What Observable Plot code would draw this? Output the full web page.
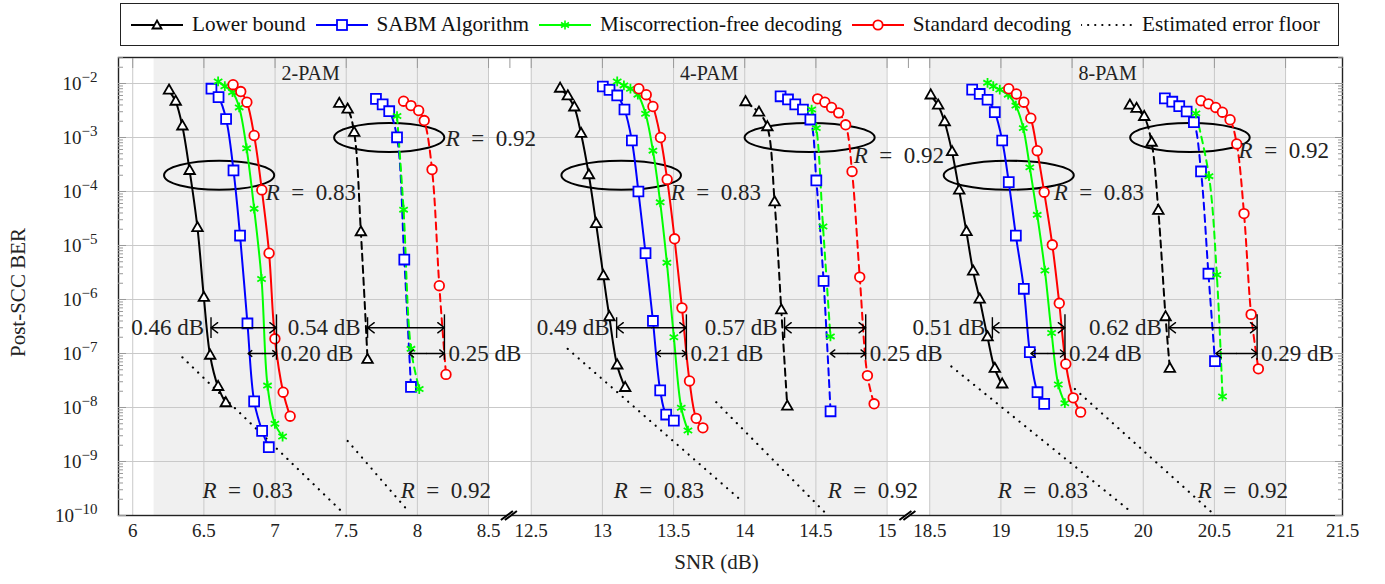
<!DOCTYPE html>
<html><head><meta charset="utf-8">
<script src="https://cdn.jsdelivr.net/npm/d3@7"></script>
<script src="https://cdn.jsdelivr.net/npm/@observablehq/plot@0.6"></script>
<style>
body{margin:0;background:#fff;font-family:"Liberation Serif","Times New Roman",serif;}
#legend{position:absolute;left:120px;top:3px;width:1217px;height:41px;border:1.3px solid #222;display:flex;align-items:center;font-size:21.2px;color:#111;box-sizing:content-box;}
#legend .it{display:flex;align-items:center;margin-left:10px;}
#legend svg{margin-right:9px;}
#chart{position:absolute;left:0;top:50px;}
</style></head><body>
<div id="legend"></div>
<div id="chart"></div>
<script>
// ---------- data (SNR in dB, post-SCC BER) ----------
const seriesNames = ["Lower bound","SABM Algorithm","Miscorrection-free decoding","Standard decoding"];
const seriesColors = ["#000000","#0000ff","#00ff00","#ff0000"];

// 2-PAM
const lower2_83 = [[6.255,7.4e-3],[6.302,4.6e-3],[6.349,1.6e-3],[6.40,2.4e-4],[6.455,2.1e-5],[6.50,1.07e-6],[6.544,9.1e-8],[6.60,2.4e-8],[6.654,1.2e-8]];
const sabm2_83 = [[6.553,8.0e-3],[6.603,5.6e-3],[6.656,2.2e-3],[6.708,2.45e-4],[6.754,1.53e-5],[6.806,3.6e-7],[6.853,1.3e-8],[6.909,3.7e-9],[6.956,1.84e-9]];
const misc2_83 = [[6.60,1.09e-2],[6.647,8.9e-3],[6.701,6.9e-3],[6.748,3.6e-3],[6.80,6.3e-4],[6.853,4.8e-5],[6.905,2.4e-6],[6.947,2.55e-8],[6.999,5.0e-9],[7.053,2.9e-9]];
const std2_83 = [[6.705,9.5e-3],[6.759,7.1e-3],[6.802,4.5e-3],[6.853,1.09e-3],[6.907,1.07e-4],[6.958,7.2e-6],[6.999,1.87e-7],[7.057,1.92e-8],[7.106,6.9e-9]];
const lower2_92 = [[7.451,4.2e-3],[7.510,3.3e-3],[7.556,1.22e-3],[7.603,1.76e-5],[7.650,7.6e-8]];
const sabm2_92 = [[7.709,5.2e-3],[7.756,4.1e-3],[7.802,3.07e-3],[7.857,1.01e-3],[7.908,5.5e-6],[7.955,2.4e-8]];
const misc2_92 = [[7.857,2.5e-3],[7.903,4.6e-5],[7.955,1.22e-7],[8.013,2.2e-8]];
const std2_92 = [[7.903,4.7e-3],[7.955,3.9e-3],[8.009,3.16e-3],[8.048,2.06e-3],[8.103,2.55e-4],[8.154,1.8e-6],[8.201,4.1e-8]];
// 4-PAM
const lower4_83 = [[12.703,8.0e-3],[12.757,5.8e-3],[12.803,3.6e-3],[12.85,1.17e-3],[12.905,2.0e-4],[12.956,2.5e-5],[13.007,2.7e-6],[13.049,4.7e-7],[13.104,6.0e-8],[13.16,2.3e-8]];
const sabm4_83 = [[13.003,8.8e-3],[13.05,7.6e-3],[13.104,6.0e-3],[13.155,3.3e-3],[13.207,8.8e-4],[13.253,1.0e-4],[13.303,7.2e-6],[13.355,4.0e-7],[13.406,2.07e-8],[13.448,7.4e-9],[13.502,5.7e-9]];
const misc4_83 = [[13.104,1.09e-2],[13.151,9.2e-3],[13.197,8.0e-3],[13.249,6.2e-3],[13.303,2.75e-3],[13.355,5.7e-4],[13.406,6.3e-5],[13.453,4.8e-6],[13.502,2.0e-7],[13.554,9.9e-9],[13.601,3.75e-9]];
const std4_83 = [[13.256,8.0e-3],[13.308,6.2e-3],[13.355,3.75e-3],[13.408,1.0e-3],[13.455,1.67e-4],[13.507,1.33e-5],[13.559,7.0e-7],[13.612,3.1e-8],[13.659,6.3e-9],[13.706,4.2e-9]];
const lower4_92 = [[14.006,4.5e-3],[14.10,2.9e-3],[14.159,1.55e-3],[14.21,6.3e-5],[14.257,6.3e-7],[14.299,1.04e-8]];
const sabm4_92 = [[14.252,5.8e-3],[14.304,5.06e-3],[14.355,4.1e-3],[14.409,3.3e-3],[14.461,2.15e-3],[14.503,1.6e-4],[14.554,2.2e-6],[14.603,8.5e-9]];
const misc4_92 = [[14.47,3.3e-3],[14.503,1.49e-3],[14.55,2.25e-5],[14.602,2.07e-7]];
const std4_92 = [[14.512,5.2e-3],[14.563,4.5e-3],[14.61,3.6e-3],[14.66,2.86e-3],[14.709,1.72e-3],[14.754,2.35e-4],[14.808,2.6e-6],[14.862,3.9e-8],[14.909,1.17e-8]];
// 8-PAM
const lower8_83 = [[18.507,6.0e-3],[18.559,3.9e-3],[18.605,1.92e-3],[18.657,5.35e-4],[18.707,1.04e-4],[18.758,1.77e-5],[18.805,3.3e-6],[18.851,1.0e-6],[18.906,2.0e-7],[18.957,5.2e-8],[19.009,2.67e-8]];
const sabm8_83 = [[18.798,7.7e-3],[18.851,6.4e-3],[18.906,5.0e-3],[18.957,2.94e-3],[19.009,8.8e-4],[19.055,1.49e-4],[19.105,1.53e-5],[19.161,1.58e-6],[19.203,1.06e-7],[19.257,1.92e-8],[19.304,1.17e-8]];
const misc8_83 = [[18.906,1.03e-2],[18.946,8.9e-3],[18.992,7.7e-3],[19.051,6.2e-3],[19.105,3.9e-3],[19.157,1.49e-3],[19.203,2.8e-4],[19.255,3.7e-5],[19.309,3.44e-6],[19.356,2.4e-7],[19.403,2.67e-8],[19.449,1.2e-8]];
const std8_83 = [[19.055,8.0e-3],[19.109,6.4e-3],[19.161,4.5e-3],[19.21,2.28e-3],[19.255,5.7e-4],[19.304,9.7e-5],[19.361,1.03e-5],[19.41,8.5e-7],[19.456,6.4e-8],[19.508,1.51e-8],[19.56,8.2e-9]];
const lower8_92 = [[19.906,3.9e-3],[19.953,3.4e-3],[20.007,2.4e-3],[20.059,8.0e-4],[20.106,4.4e-5],[20.157,4.7e-7],[20.187,5.2e-8]];
const sabm8_92 = [[20.152,5.3e-3],[20.204,4.6e-3],[20.253,3.8e-3],[20.305,3.03e-3],[20.356,1.92e-3],[20.406,2.35e-4],[20.458,3.0e-6],[20.504,7.2e-8]];
const misc8_92 = [[20.37,2.8e-3],[20.462,1.92e-4],[20.517,2.86e-6],[20.557,1.6e-8]];
const std8_92 = [[20.406,4.8e-3],[20.458,4.2e-3],[20.509,3.6e-3],[20.556,2.94e-3],[20.61,2.13e-3],[20.657,7.6e-4],[20.708,3.9e-5],[20.758,5.3e-7],[20.809,5.2e-8]];

// estimated error floors: [snr1, ber1, snr2, ber2]
const floors = [[6.349,8.5e-8,7.474,1.15e-10],[7.51,2.4e-9,7.943,1.15e-10],
  [12.756,1.22e-7,13.975,1.9e-10],[13.80,1.25e-8,14.562,1.15e-10],
  [18.652,5.75e-8,19.918,1.15e-10],[19.52,2.2e-8,20.48,1.15e-10]];

// panels (axis segments) and shaded ranges
const panelNames = ["2-PAM","4-PAM","8-PAM"];
const panelLo = [6, 12.5, 18.5];
const panelHi = [8.5, 15, 21];
const shadeLo = [6.15, 12.5, 18.5];
const shadeHi = [8.5, 15, 21];
const xTickLabels = [6,6.5,7,7.5,8,8.5,12.5,13,13.5,14,14.5,15,18.5,19,19.5,20,20.5,21,21.5];
const yDecades = [1e-10,1e-9,1e-8,1e-7,1e-6,1e-5,1e-4,1e-3,1e-2];

// gap annotations (even index: long arrow, label left; odd index: short arrow, label right)
const gapStart = [6.55,6.81,7.65,7.94, 13.10,13.38,14.28,14.60, 18.94,19.21,20.18,20.51];
const gapEnd   = [7.01,7.01,8.19,8.19, 13.59,13.59,14.85,14.85, 19.45,19.45,20.80,20.80];
const gapBer   = [3e-7,1e-7,3e-7,1e-7, 3e-7,1e-7,3e-7,1e-7, 3e-7,1e-7,3e-7,1e-7];
const gapText  = ["0.46 dB","0.20 dB","0.54 dB","0.25 dB","0.49 dB","0.21 dB","0.57 dB","0.25 dB","0.51 dB","0.24 dB","0.62 dB","0.29 dB"];

// ellipses around curve groups: [snr, ber, half width dB]
const ellipses = [[6.607,2e-4,0.387],[7.802,1e-3,0.387],[13.132,2e-4,0.42],[14.456,1e-3,0.457],[19.055,2e-4,0.457],[20.328,1e-3,0.42]];
// rate labels next to ellipses [snr, ber, rate] and at bottom
const rateLabels = [[6.934,9.5e-5,0.83],[8.199,9.5e-4,0.92],[13.48,9.5e-5,0.83],[14.766,4.6e-4,0.92],[19.371,9.5e-5,0.83],[20.67,5.75e-4,0.92]];
const rateLabelsBottom = [[6.49,2.9e-10,0.83],[7.883,2.9e-10,0.92],[13.08,2.9e-10,0.83],[14.583,2.9e-10,0.92],[18.977,2.9e-10,0.83],[20.383,2.9e-10,0.92]];

// ---------- build ----------
const groups = [
  [2,0.83,[lower2_83,sabm2_83,misc2_83,std2_83]],[2,0.92,[lower2_92,sabm2_92,misc2_92,std2_92]],
  [4,0.83,[lower4_83,sabm4_83,misc4_83,std4_83]],[4,0.92,[lower4_92,sabm4_92,misc4_92,std4_92]],
  [8,0.83,[lower8_83,sabm8_83,misc8_83,std8_83]],[8,0.92,[lower8_92,sabm8_92,misc8_92,std8_92]]];
const rows = [];
for (const [pam, rate, arrs] of groups) arrs.forEach((arr, k) => arr.forEach(([snr, ber]) =>
  rows.push({series: seriesNames[k], key: `${pam}-${rate}-${k}`, pam, rate, snr, ber})));

// broken axis: map SNR to a continuous axis coordinate
const gap = 0.3;
const ax = s => s <= panelHi[0] + 1 ? s
  : s <= panelHi[1] + 1 ? s - panelLo[1] + panelHi[0] + gap
  : s - panelLo[2] + (panelHi[1] - panelLo[1] + panelHi[0] + gap) + gap;
const xMin = 5.9, xMax = 14.5;
const xTickPos = xTickLabels.map((v, i) => i === xTickLabels.length - 1 ? xMax : ax(v));
const labelAt = new Map(xTickPos.map((p, i) => [p, String(xTickLabels[i])]));
const breakPos = [ (ax(panelHi[0]) + ax(panelLo[1])) / 2, (ax(panelHi[1]) + ax(panelLo[2])) / 2 ];
const yTop = 0.0303;
const minorY = [];
for (let e = -10; e <= -2; e++) for (let m = 2; m <= 9; m++) { const v = m * Math.pow(10, e); if (v <= yTop) minorY.push(v); }

const W = 1385, H = 534, ML = 118, MR = 43, MT = 7, MB = 69;
const pxPerUnit = (W - ML - MR) / (xMax - xMin);

const ellipseSym = { draw(ctx, size) {
  const rx = Math.sqrt(size / Math.PI), ry = 14.5, kx = rx * 0.5523, ky = ry * 0.5523;
  ctx.moveTo(rx, 0);
  ctx.bezierCurveTo(rx, ky, kx, ry, 0, ry);
  ctx.bezierCurveTo(-kx, ry, -rx, ky, -rx, 0);
  ctx.bezierCurveTo(-rx, -ky, -kx, -ry, 0, -ry);
  ctx.bezierCurveTo(kx, -ry, rx, -ky, rx, 0);
  ctx.closePath();
}};
const breakFill = { draw(ctx) { ctx.moveTo(-9,4.5); ctx.lineTo(3,-4.5); ctx.lineTo(7,-4.5); ctx.lineTo(-5,4.5); ctx.closePath(); } };
const breakLines = { draw(ctx) { ctx.moveTo(-9,4.5); ctx.lineTo(3,-4.5); ctx.moveTo(-5,4.5); ctx.lineTo(7,-4.5); } };

const symbolsBy = {"Lower bound": ["triangle", 3.9], "SABM Algorithm": ["square", 5.6], "Miscorrection-free decoding": ["asterisk", 4.6], "Standard decoding": ["circle", 4.8]};
const colorOf = Object.fromEntries(seriesNames.map((s, i) => [s, seriesColors[i]]));
const gapIdx = gapStart.map((v, i) => i);
const gapMid = i => (ax(gapStart[i]) + ax(gapEnd[i])) / 2;
const arrowOpts = {stroke: "#000", strokeWidth: 1.4, headLength: 9, headAngle: 75};

const marks = [
  Plot.rect(shadeLo.map((lo, i) => [lo, shadeHi[i]]), {x1: d => ax(d[0]), x2: d => ax(d[1]), fill: "#f0f0f0"}),
  Plot.ruleX(xTickLabels.slice(0, -1), {x: d => ax(d), stroke: "#c9c9c9", strokeWidth: 1}),
  Plot.ruleY(yDecades.slice(1), {y: d => d, stroke: "#c9c9c9", strokeWidth: 1}),
  Plot.link(floors, {x1: d => ax(d[0]), y1: d => d[1], x2: d => ax(d[2]), y2: d => d[3],
    stroke: "#000", strokeWidth: 2.2, strokeDasharray: "0.1,7.2", strokeLinecap: "round"}),
  ...ellipses.map(e => Plot.dot([e], {x: d => ax(d[0]), y: d => d[1], symbol: ellipseSym, r: e[2] * pxPerUnit,
    fill: "none", stroke: "#000", strokeWidth: 2})),
  Plot.line(rows.filter(d => d.rate === 0.83), {x: d => ax(d.snr), y: "ber", z: "key", stroke: d => colorOf[d.series],
    strokeWidth: 2, curve: "catmull-rom"}),
  Plot.line(rows.filter(d => d.rate === 0.92), {x: d => ax(d.snr), y: "ber", z: "key", stroke: d => colorOf[d.series],
    strokeWidth: 2, strokeDasharray: "7,5", curve: "catmull-rom"}),
  ...seriesNames.map(s => Plot.dot(rows.filter(d => d.series === s), {x: d => ax(d.snr), y: "ber",
    symbol: symbolsBy[s][0], r: symbolsBy[s][1], fill: "white", stroke: colorOf[s], strokeWidth: 1.8})),
  // gap arrows (double headed: two halves from the middle)
  Plot.arrow(gapIdx, {x1: gapMid, x2: i => ax(gapStart[i]), y1: i => gapBer[i], y2: i => gapBer[i], ...arrowOpts}),
  Plot.arrow(gapIdx, {x1: gapMid, x2: i => ax(gapEnd[i]), y1: i => gapBer[i], y2: i => gapBer[i], ...arrowOpts}),
  Plot.ruleX(gapEnd.filter((v, i) => i % 2 === 0), {x: d => ax(d), y1: 5.2e-7, y2: 7.5e-8, stroke: "#000", strokeWidth: 1.4}),
  Plot.ruleX(gapStart.filter((v, i) => i % 2 === 0), {x: d => ax(d), y1: 4.6e-7, y2: 1.9e-7, stroke: "#000", strokeWidth: 1.4}),
  Plot.text(gapIdx.filter(i => i % 2 === 0), {x: i => ax(gapStart[i]), y: i => gapBer[i], text: i => gapText[i],
    textAnchor: "end", dx: -7, fontSize: 23, fill: "#222", lineAnchor: "middle"}),
  Plot.text(gapIdx.filter(i => i % 2 === 1), {x: i => ax(gapEnd[i]), y: i => gapBer[i], text: i => gapText[i],
    textAnchor: "start", dx: 4, fontSize: 23, fill: "#222", lineAnchor: "middle"}),
  // rate labels
  Plot.text(rateLabels, {x: d => ax(d[0]), y: d => d[1], text: d => `R\u2002=\u2002${d[2]}`, textAnchor: "start",
    fontSize: 23, fill: "#222", lineAnchor: "middle"}),
  Plot.text(rateLabelsBottom, {x: d => ax(d[0]), y: d => d[1], text: d => `R\u2002=\u2002${d[2]}`, textAnchor: "start",
    fontSize: 23, fill: "#222", lineAnchor: "middle"}),
  // panel titles
  Plot.text(panelNames, {x: (d, i) => (ax(panelLo[i]) + ax(panelHi[i])) / 2, y: 0.0153, text: d => d,
    fontSize: 20, fill: "#222", lineAnchor: "middle"}),
  Plot.frame({stroke: "#222", strokeWidth: 1.4}),
  // axis break marks
  Plot.dot(breakPos, {x: d => d, y: 1e-10, symbol: breakFill, r: 5, fill: "white", stroke: "none"}),
  Plot.dot(breakPos, {x: d => d, y: 1e-10, symbol: breakLines, r: 5, fill: "none", stroke: "#000", strokeWidth: 2}),
  // axes
  Plot.axisX({ticks: xTickPos, tickFormat: d => labelAt.get(d), tickSize: 0, tickPadding: 8, label: null, fontSize: 19, fill: "#222"}),
  Plot.axisX({anchor: "top", ticks: [...xTickPos.slice(0, -1), ...breakPos], tickSize: -10, tickFormat: () => "", label: null, stroke: "#999"}),
  Plot.axisY({ticks: yDecades, tickFormat: d => "10\u2212" + (-Math.round(Math.log10(d))), tickSize: 0, tickPadding: 21, label: null, fontSize: 19, fill: "#222"}),
  Plot.axisY({anchor: "left", ticks: minorY, tickSize: -5, tickFormat: () => "", label: null, stroke: "#999"}),
  Plot.axisY({anchor: "right", ticks: minorY, tickSize: -5, tickFormat: () => "", label: null, stroke: "#999"}),
  Plot.axisY({anchor: "left", ticks: yDecades, tickSize: -8, tickFormat: () => "", label: null, stroke: "#999"}),
  Plot.axisY({anchor: "right", ticks: yDecades, tickSize: -8, tickFormat: () => "", label: null, stroke: "#999"}),
  Plot.text(["Post-SCC BER"], {frameAnchor: "left", dx: -100, dy: 6, rotate: -90, textAnchor: "middle", text: d => d, fontSize: 21, fill: "#222"}),
  Plot.text(["SNR (dB)"], {frameAnchor: "bottom", dy: 53, dx: -14, textAnchor: "middle", text: d => d, fontSize: 21, fill: "#222"})
];

const chart = Plot.plot({
  width: W, height: H, marginLeft: ML, marginRight: MR, marginTop: MT, marginBottom: MB,
  style: {fontFamily: "'Liberation Serif', 'Times New Roman', serif", fontSize: "18px", background: "white", overflow: "visible"},
  x: {domain: [xMin, xMax], axis: null},
  y: {type: "log", domain: [1e-10, yTop], axis: null},
  marks
});
document.getElementById("chart").append(chart);

// typeset exponents and italic R
chart.querySelectorAll("text").forEach(t => {
  const s = t.textContent;
  let m = s.match(/^10\u2212(\d+)$/);
  if (m) {
    t.textContent = "10";
    const ts = document.createElementNS("http://www.w3.org/2000/svg", "tspan");
    ts.setAttribute("dy", "-0.5em"); ts.setAttribute("font-size", "15px");
    ts.textContent = "\u2212" + m[1];
    t.appendChild(ts);
    return;
  }
  m = s.match(/^R(\u2002=\u2002.*)$/);
  if (m) {
    t.textContent = "";
    const ts = document.createElementNS("http://www.w3.org/2000/svg", "tspan");
    ts.setAttribute("font-style", "italic"); ts.textContent = "R";
    t.appendChild(ts);
    t.appendChild(document.createTextNode(m[1]));
  }
});

// legend
const legend = document.getElementById("legend");
const legendNames = [...seriesNames, "Estimated error floor"];
const legendSymbols = ["triangle","square","asterisk","circle", null];
legendNames.forEach((name, i) => {
  const color = i < 4 ? seriesColors[i] : "#000";
  const it = document.createElement("div"); it.className = "it";
  const sym = legendSymbols[i];
  let marker = "";
  if (sym === "triangle") marker = `<path d="M26,3.5 L30.5,11.5 L21.5,11.5 Z" fill="white" stroke="${color}" stroke-width="1.8"/>`;
  if (sym === "square") marker = `<rect x="21" y="3" width="10" height="10" fill="white" stroke="${color}" stroke-width="1.8"/>`;
  if (sym === "asterisk") marker = `<path d="M26,3.5V12.5M22,5.5L30,10.5M22,10.5L30,5.5" stroke="${color}" stroke-width="1.6"/>`;
  if (sym === "circle") marker = `<circle cx="26" cy="8" r="4.7" fill="white" stroke="${color}" stroke-width="1.8"/>`;
  const dash = sym ? `stroke-width="2"` : `stroke-dasharray="0.1,7" stroke-linecap="round" stroke-width="2.2"`;
  it.innerHTML = `<svg width="52" height="16"><line x1="0" x2="52" y1="8" y2="8" stroke="${color}" ${dash}/>${marker}</svg><span>${name}</span>`;
  legend.appendChild(it);
});
</script>
</body></html>
